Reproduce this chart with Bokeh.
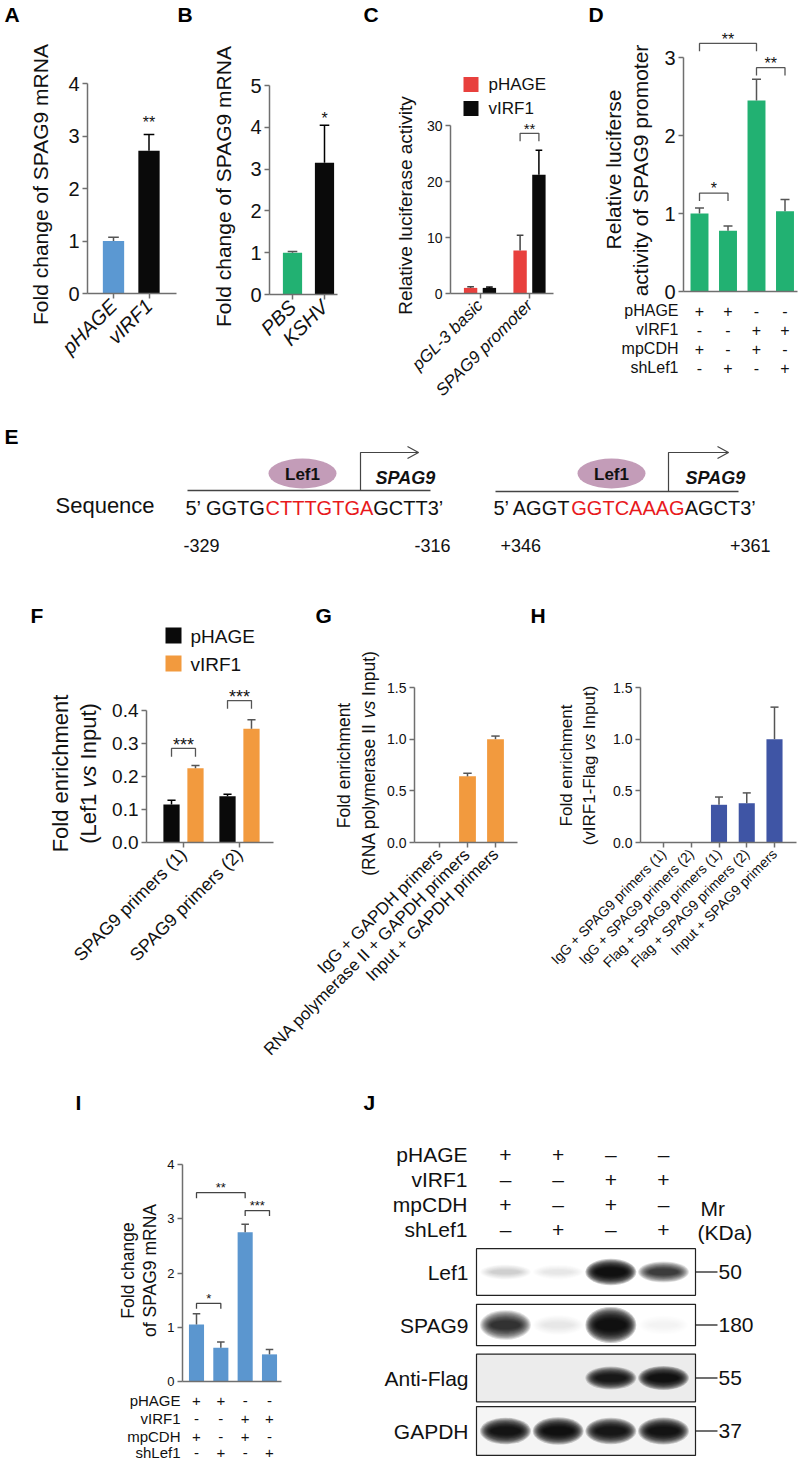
import math
from bokeh.plotting import figure
from bokeh.models import Range1d, LinearAxis, FixedTicker, NumeralTickFormatter, Label, ColumnDataSource
from bokeh.embed import file_html
from bokeh.resources import INLINE
from bokeh.core.properties import value

FONT = "Liberation Sans"
INK = "#111111"
AXC = "#6f6f6f"

# ---------------- data ----------------
a_labels = ["pHAGE", "vIRF1"]
a_values = [1.0, 2.72]
a_errors = [0.07, 0.31]
a_colors = ["#5b98d2", "#0a0a0a"]
a_star_h = [None, 3.33]
a_stars = ["", "**"]

b_labels = ["PBS", "KSHV"]
b_values = [1.0, 3.15]
b_errors = [0.03, 0.90]
b_colors = ["#22b172", "#0a0a0a"]
b_star_h = [None, 4.3]
b_stars = ["", "*"]

c_labels = ["pGL-3 basic", "SPAG9 promoter"]
c_series = ["pHAGE", "vIRF1"]
c_colors = ["#e8403d", "#0a0a0a"]
c_phage = [1.0, 7.7]
c_phage_err = [0.2, 2.7]
c_virf1 = [1.0, 21.2]
c_virf1_err = [0.15, 4.4]
c_sig = [(2, 28.6, "**")]

d_values = [1.0, 0.78, 2.45, 1.03]
d_errors = [0.07, 0.06, 0.27, 0.15]
d_sig = [(1, 2, 1.26, "*"), (1, 3, 3.18, "**"), (3, 4, 2.87, "**")]
cond_rows = ["pHAGE", "vIRF1", "mpCDH", "shLef1"]
cond_signs = [["+", "+", "-", "-"], ["-", "-", "+", "+"], ["+", "-", "+", "-"], ["-", "+", "-", "+"]]

f_labels = ["SPAG9 primers (1)", "SPAG9 primers (2)"]
f_series = ["pHAGE", "vIRF1"]
f_colors = ["#0a0a0a", "#f29a3e"]
f_phage = [0.115, 0.140]
f_phage_err = [0.013, 0.006]
f_virf1 = [0.225, 0.345]
f_virf1_err = [0.008, 0.027]
f_sig = [(1, 0.285, "***"), (2, 0.430, "***")]

g_labels = ["IgG + GAPDH primers", "RNA polymerase II + GAPDH primers", "Input + GAPDH primers"]
g_values = [0.0, 0.64, 1.0]
g_errors = [0.0, 0.03, 0.03]

h_labels = ["IgG + SPAG9 primers (1)", "IgG + SPAG9 primers (2)", "Flag + SPAG9 primers (1)",
            "Flag + SPAG9 primers (2)", "Input + SPAG9 primers"]
h_values = [0.0, 0.0, 0.365, 0.38, 1.0]
h_errors = [0.0, 0.0, 0.075, 0.10, 0.31]

i_values = [1.05, 0.62, 2.75, 0.50]
i_errors = [0.20, 0.11, 0.15, 0.09]
i_sig = [(1, 2, 1.44, "*"), (1, 3, 3.48, "**"), (3, 4, 3.15, "***")]

j_signs = [["+", "+", "–", "–"], ["–", "–", "+", "+"], ["+", "–", "+", "–"], ["–", "+", "–", "+"]]
blot_rows = ["Lef1", "SPAG9", "Anti-Flag", "GAPDH"]
blot_mr = ["50", "180", "55", "37"]
band_intensity = [[0.07, 0.04, 1.0, 0.55],
                  [0.6, 0.03, 1.0, 0.02],
                  [0.0, 0.0, 0.85, 0.95],
                  [0.9, 0.97, 0.88, 0.93]]

seq_left = ["5’ GGTG", "CTTTGTGA", "GCTT3’"]
seq_right = ["5’ AGGT", "GGTCAAAG", "AGCT3’"]
pos_left = ["-329", "-316"]
pos_right = ["+346", "+361"]

# ---------------- metrics ----------------
W = {}
for ch, w in zip("abcdefghijklmnopqrstuvwxyz",
                 [.556, .556, .5, .556, .556, .278, .556, .556, .222, .222, .5, .222, .833, .556, .556, .556, .556, .333, .5, .278, .556, .5, .722, .5, .5, .5]):
    W[ch] = w
for ch, w in zip("ABCDEFGHIJKLMNOPQRSTUVWXYZ",
                 [.667, .667, .722, .722, .667, .611, .778, .722, .278, .5, .667, .556, .833, .722, .778, .667, .778, .722, .667, .611, .722, .667, .944, .667, .667, .611]):
    W[ch] = w
for ch in "0123456789":
    W[ch] = .556
W.update({" ": .278, "(": .333, ")": .333, "-": .333, "+": .584, "’": .222, "'": .191, ".": .278})


def tw(s, size):
    return sum(W.get(c, .556) for c in s) * size


# ---------------- canvas (page coordinates, origin top-left) ----------------
X0, X1, Y0, Y1 = 0, 800, 0, 1461
p = figure(width=X1 - X0, height=Y1 - Y0, x_range=Range1d(X0, X1), y_range=Range1d(Y1, Y0),
           x_axis_type=None, y_axis_type=None, output_backend="svg", toolbar_location=None,
           tools="", min_border=0, outline_line_color=None, title=None,
           background_fill_color="white", border_fill_color="white")

P = {}


def lin(d1, p1, d2, p2):
    k = (d2 - d1) / (p2 - p1)
    return lambda px: d1 + (px - p1) * k


def panel(name, xa, ya):
    fx = lin(*xa)
    fy = lin(*ya)
    p.extra_x_ranges[name] = Range1d(fx(X0), fx(X1))
    p.extra_y_ranges[name] = Range1d(fy(Y1), fy(Y0))
    P[name] = (fx, fy)


def style_axis(ax, size):
    ax.axis_line_color = AXC
    ax.axis_line_width = 1.5
    ax.major_tick_line_color = AXC
    ax.major_tick_line_width = 1.5
    ax.major_tick_out = 5
    ax.major_tick_in = 0
    ax.minor_tick_line_color = None
    ax.major_label_text_font = FONT
    ax.major_label_text_font_size = f"{size}px"
    ax.major_label_text_color = INK
    ax.major_label_standoff = 3


def y_axis(name, xpx, ticks, size, fmt=None):
    fx, fy = P[name]
    ax = LinearAxis(x_range_name=name, y_range_name=name, fixed_location=fx(xpx),
                    bounds=(ticks[0], ticks[-1]), ticker=FixedTicker(ticks=ticks))
    style_axis(ax, size)
    if fmt:
        ax.formatter = NumeralTickFormatter(format=fmt)
    p.add_layout(ax, "left")


def x_axis(name, xpx0, xpx1, labels, size, italic=False, ticks=True):
    fx, fy = P[name]
    pos = [float(i + 1) for i in range(len(labels))] if ticks else []
    ax = LinearAxis(x_range_name=name, y_range_name=name, fixed_location=0,
                    bounds=(fx(xpx0), fx(xpx1)), ticker=FixedTicker(ticks=pos),
                    major_label_overrides={q: l for q, l in zip(pos, labels)},
                    major_label_orientation=math.pi / 4)
    style_axis(ax, size)
    ax.major_label_standoff = 4
    if italic:
        ax.major_label_text_font_style = "italic"
    p.add_layout(ax, "below")


def add_bars(name, xs, vals, errs, colors, width, err_colors=None, cap=0.25):
    src = ColumnDataSource(dict(x=xs, top=vals, color=colors))
    p.vbar(x="x", top="top", bottom=0, width=width, fill_color="color", line_color=None,
           source=src, x_range_name=name, y_range_name=name)
    if err_colors is None:
        err_colors = ["#3a3a3a"] * len(xs)
    keep = [i for i, e in enumerate(errs) if e > 0]
    ex = [xs[i] for i in keep]
    ev = [vals[i] for i in keep]
    et = [vals[i] + errs[i] for i in keep]
    ec = [err_colors[i] for i in keep]
    if ex:
        p.segment(x0=ex, y0=ev, x1=ex, y1=et, line_color=ec, line_width=1.5,
                  x_range_name=name, y_range_name=name)
        p.segment(x0=[x - cap * width for x in ex], y0=et, x1=[x + cap * width for x in ex], y1=et,
                  line_color=ec, line_width=1.5, x_range_name=name, y_range_name=name)


def txt(x, y, s, size, align="left", base="middle", style="normal", color=INK, angle=0.0,
        xr="default", yr="default", yoff=0):
    p.add_layout(Label(x=x, y=y, text=s, text_font=FONT, text_font_size=f"{size}px",
                       text_align=align, text_baseline=base, text_font_style=style,
                       text_color=color, angle=angle, x_range_name=xr, y_range_name=yr,
                       y_offset=yoff))


def star(name, x, h, s, size):
    txt(x, h, s, size, align="center", base="middle", xr=name, yr=name, yoff=-0.23 * size)


def bracket(name, x1, x2, h, leg, s, size, color="#555555"):
    p.line([x1, x1, x2, x2], [h - leg, h, h, h - leg], line_color=color, line_width=1.3,
           x_range_name=name, y_range_name=name)
    txt((x1 + x2) / 2, h, s, size, align="center", base="middle", xr=name, yr=name,
        yoff=8 - 0.23 * size)


def vrich(xc, yc, pieces, size):
    gaps = tw(" ", size)
    total = sum(tw(s, size) for s, _ in pieces) + gaps * (len(pieces) - 1)
    y = yc + total / 2
    for s, st in pieces:
        txt(xc, y, s, size, align="left", base="middle", style=st, angle=math.pi / 2)
        y -= tw(s, size) + gaps


def letter(x, y, s):
    txt(x, y, s, 21, style="bold", color="#000000")


def cond_table(name, rows_px, label_right, size, signs, names, positions):
    for r, ypx in enumerate(rows_px):
        txt(label_right, ypx, names[r], size, align="right")
        p.text(x=positions, y=[ypx] * len(positions), text=signs[r], text_font=value(FONT),
               text_font_size=f"{size}px", text_align="center", text_baseline="middle",
               text_color=INK, x_range_name=name, y_range_name="default")


# ---------------- A ----------------
panel("A", (1, 113, 2, 148.5), (0, 293, 4, 83))
x = [1.0, 2.0]
add_bars("A", x, a_values, a_errors, a_colors, 0.6, err_colors=["#555555", "#000000"])
y_axis("A", 87, [0, 1, 2, 3, 4], 20)
x_axis("A", 87, 176, a_labels, 20, italic=True)
for xi, h, s in zip(x, a_star_h, a_stars):
    if s:
        star("A", xi, h, s, 16)
txt(40, 184, "Fold change of SPAG9 mRNA", 21, align="center", angle=math.pi / 2)
letter(4, 14, "A")

# ---------------- B ----------------
panel("B", (1, 292, 2, 324), (0, 294, 5, 85))
add_bars("B", x, b_values, b_errors, b_colors, 0.6, err_colors=["#555555", "#000000"])
y_axis("B", 269, [0, 1, 2, 3, 4, 5], 20)
x_axis("B", 269, 337, b_labels, 20, italic=True)
for xi, h, s in zip(x, b_star_h, b_stars):
    if s:
        star("B", xi, h, s, 16)
txt(223, 186, "Fold change of SPAG9 mRNA", 21, align="center", angle=math.pi / 2)
letter(177, 14, "B")

# ---------------- C ----------------
panel("C", (1, 479.5, 2, 529), (0, 293, 30, 125))
off = 0.19
add_bars("C", [g - off for g in x], c_phage, c_phage_err, [c_colors[0]] * 2, 0.27, err_colors=["#444444"] * 2)
add_bars("C", [g + off for g in x], c_virf1, c_virf1_err, [c_colors[1]] * 2, 0.27, err_colors=["#000000"] * 2)
y_axis("C", 450, [0, 10, 20, 30], 14)
x_axis("C", 450, 553, c_labels, 17, italic=True)
for g, h, s in c_sig:
    bracket("C", g - off, g + off, h, 1.4, s, 15)
txt(405, 205, "Relative luciferase activity", 19, align="center", angle=math.pi / 2)
p.scatter(x=[470.5, 470.5], y=[84, 108], marker="square", size=15, fill_color=c_colors,
          line_color=None)
txt(488, 84, c_series[0], 17)
txt(488, 108, c_series[1], 17)
letter(363, 14, "C")

# ---------------- D ----------------
panel("D", (1, 699, 4, 784.5), (0, 291, 3, 57))
xd = [1.0, 2.0, 3.0, 4.0]
add_bars("D", xd, d_values, d_errors, ["#22b172"] * 4, 0.63, err_colors=["#555555"] * 4)
y_axis("D", 683, [0, 1, 2, 3], 20)
x_axis("D", 683, 797, ["", "", "", ""], 16, ticks=False)
for a, b, h, s in d_sig:
    bracket("D", a, b, h, 0.1, s, 16)
txt(613, 169, "Relative luciferse", 21, align="center", angle=math.pi / 2)
txt(640, 170, "activity of SPAG9 promoter", 21, align="center", angle=math.pi / 2)
cond_table("D", [310, 329, 348, 367], 678, 16, cond_signs, cond_rows, xd)
letter(588, 14, "D")

# ---------------- E ----------------
letter(4, 436, "E")
txt(55, 505, "Sequence", 22)


def seq(x0, y, parts, size):
    cols = ["#111111", "#e8191c", "#111111"]
    xx = x0
    for s, c in zip(parts, cols):
        txt(xx, y, s, size, color=c)
        xx += tw(s, size)


seq(185, 507, seq_left, 20)
seq(493, 507, seq_right, 20)
p.line([187, 430], [490, 490], line_color="#444444", line_width=1.5)
p.line([495, 738], [491, 491], line_color="#444444", line_width=1.5)
p.ellipse(x=[302, 611], y=[473, 473], width=68, height=30, fill_color="#c39cb8", line_color=None)
txt(302, 474, "Lef1", 17, align="center", style="bold")
txt(611, 474, "Lef1", 17, align="center", style="bold")
for ax0, ax1, yb in [(360, 418, 490), (668, 728, 491)]:
    p.line([ax0, ax0, ax1], [yb, 452, 452], line_color="#444444", line_width=1.2)
    p.line([ax1 - 11, ax1, ax1 - 11], [446, 452, 458], line_color="#444444", line_width=1.2)
txt(375, 477, "SPAG9", 18, style="bold italic")
txt(685, 477, "SPAG9", 18, style="bold italic")
txt(183, 545, pos_left[0], 18)
txt(450, 545, pos_left[1], 18, align="right")
txt(500, 545, pos_right[0], 18)
txt(770, 545, pos_right[1], 18, align="right")

# ---------------- F ----------------
panel("F", (1, 183, 2, 239), (0, 842, 0.4, 710))
offf = 0.214
add_bars("F", [g - offf for g in x], f_phage, f_phage_err, [f_colors[0]] * 2, 0.29, err_colors=["#000000"] * 2)
add_bars("F", [g + offf for g in x], f_virf1, f_virf1_err, [f_colors[1]] * 2, 0.29, err_colors=["#555555"] * 2)
y_axis("F", 146, [0, 0.1, 0.2, 0.3, 0.4], 19, fmt="0.0")
x_axis("F", 146, 273, f_labels, 18)
for g, h, s in f_sig:
    bracket("F", g - offf, g + offf, h, 0.025, s, 18)
txt(60, 773, "Fold enrichment", 22, align="center", angle=math.pi / 2)
vrich(88, 773, [("(Lef1", "normal"), ("vs", "italic"), ("Input)", "normal")], 22)
p.scatter(x=[173, 173], y=[635, 663], marker="square", size=16, fill_color=f_colors, line_color=None)
txt(190, 636, f_series[0], 19)
txt(190, 664, f_series[1], 19)
letter(30, 615, "F")

# ---------------- G ----------------
panel("G", (1, 439, 3, 495), (0, 842, 1.5, 687))
xg = [1.0, 2.0, 3.0]
add_bars("G", xg, g_values, g_errors, ["#f29a3e"] * 3, 0.6, err_colors=["#555555"] * 3)
y_axis("G", 414, [0, 0.5, 1.0, 1.5], 14, fmt="0.0")
x_axis("G", 414, 517, g_labels, 17)
txt(343, 765, "Fold enrichment", 17.5, align="center", angle=math.pi / 2)
vrich(368, 763, [("(RNA polymerase II", "normal"), ("vs", "italic"), ("Input)", "normal")], 17.5)
letter(315, 615, "G")

# ---------------- H ----------------
panel("H", (1, 663, 5, 774), (0, 842, 1.5, 687))
xh = [1.0, 2.0, 3.0, 4.0, 5.0]
add_bars("H", xh, h_values, h_errors, ["#3f55a5"] * 5, 0.58, err_colors=["#555555"] * 5)
y_axis("H", 640, [0, 0.5, 1.0, 1.5], 14, fmt="0.0")
x_axis("H", 640, 796, h_labels, 14)
txt(566, 765, "Fold enrichment", 17, align="center", angle=math.pi / 2)
vrich(589, 765, [("(vIRF1-Flag", "normal"), ("vs", "italic"), ("Input)", "normal")], 17)
letter(530, 615, "H")

# ---------------- I ----------------
panel("I", (1, 196, 4, 269), (0, 1381, 4, 1164))
add_bars("I", xd, i_values, i_errors, ["#5b96cf"] * 4, 0.62, err_colors=["#555555"] * 4)
y_axis("I", 182, [0, 1, 2, 3, 4], 13)
x_axis("I", 182, 281, ["", "", "", ""], 13, ticks=False)
for a, b, h, s in i_sig:
    bracket("I", a, b, h, 0.1, s, 13, color="#444444")
txt(127, 1270, "Fold change", 17.5, align="center", angle=math.pi / 2)
txt(149, 1270, "of SPAG9 mRNA", 17.5, align="center", angle=math.pi / 2)
cond_table("I", [1400, 1418, 1436, 1452], 180, 15, cond_signs, cond_rows, xd)
letter(75, 1102, "I")

# ---------------- J ----------------
panel("J", (1, 505, 4, 663), (0, 1271.5, 3, 1430.5))
fxJ, fyJ = P["J"]
rows = [0, 1, 2, 3]
half = [0.44, 0.39, 0.45, 0.46]
box_fill = ["#ffffff", "#ffffff", "#ececec", "#f5f5f5"]
p.quad(left=[fxJ(476)] * 4, right=[fxJ(695)] * 4, top=[r - h for r, h in zip(rows, half)],
       bottom=[r + h for r, h in zip(rows, half)], fill_color=box_fill, line_color="#222222",
       line_width=1.2, x_range_name="J", y_range_name="J")
band_h = [0.32, 0.44, 0.30, 0.34]
nl = 12
bx, by, bw, bh, ba = [], [], [], [], []
for r, row in enumerate(band_intensity):
    for l, inten in enumerate(row):
        if inten <= 0:
            continue
        for k in range(nl):
            t = k / (nl - 1)
            bx.append(l + 1.0)
            by.append(r)
            bw.append(0.82 * (1.18 - 0.5 * t))
            bh.append(band_h[r] * (0.55 + 0.45 * inten) * (1.55 - 1.1 * t))
            ba.append(min(1.0, 0.2 * inten))
p.ellipse(x=bx, y=by, width=bw, height=bh, fill_color="#000000", fill_alpha=ba, line_color=None,
          x_range_name="J", y_range_name="J")
p.text(x=[468] * 4, y=rows, text=blot_rows, text_font=value(FONT), text_font_size="21px",
       text_align="right", text_baseline="middle", text_color=INK,
       x_range_name="default", y_range_name="J")
p.segment(x0=[695] * 4, x1=[717] * 4, y0=rows, y1=rows, line_color="#222222", line_width=1.3,
          x_range_name="default", y_range_name="J")
p.text(x=[718] * 4, y=rows, text=blot_mr, text_font=value(FONT), text_font_size="21px",
       text_align="left", text_baseline="middle", text_color=INK,
       x_range_name="default", y_range_name="J")
cond_table("J", [1154, 1179, 1204, 1229], 467, 21, j_signs, cond_rows, xd)
txt(700, 1208, "Mr", 21)
txt(697, 1232, "(KDa)", 21)
letter(363, 1102, "J")

open("out.html", "w").write(file_html(p, INLINE))
